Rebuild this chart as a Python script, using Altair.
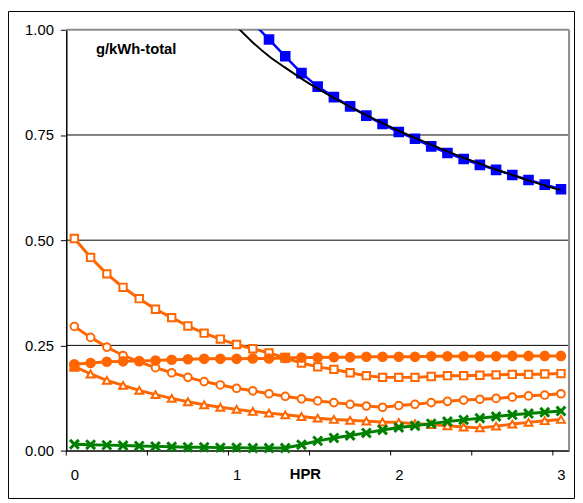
import altair as alt
import pandas as pd

# ---------------- data ----------------
hpr = [0.0, 0.1, 0.2, 0.3, 0.4, 0.5, 0.6, 0.7, 0.8, 0.9, 1.0,
       1.1, 1.2, 1.3, 1.4, 1.5, 1.6, 1.7, 1.8, 1.9, 2.0,
       2.1, 2.2, 2.3, 2.4, 2.5, 2.6, 2.7, 2.8, 2.9, 3.0]

open_squares = [0.504, 0.459, 0.420, 0.388, 0.361, 0.336, 0.316, 0.296, 0.279, 0.265, 0.252,
                0.242, 0.232, 0.220, 0.208, 0.199, 0.193, 0.185, 0.178, 0.174, 0.174,
                0.174, 0.176, 0.178, 0.178, 0.179, 0.180, 0.181, 0.181, 0.182, 0.183]
filled_circles = [0.205, 0.208, 0.211, 0.212, 0.213, 0.214, 0.216, 0.217, 0.218, 0.218, 0.218,
                  0.219, 0.219, 0.220, 0.221, 0.221, 0.222, 0.222, 0.223, 0.223, 0.223,
                  0.223, 0.224, 0.224, 0.224, 0.224, 0.224, 0.225, 0.225, 0.225, 0.225]
open_circles = [0.295, 0.269, 0.246, 0.226, 0.211, 0.197, 0.185, 0.174, 0.164, 0.156, 0.148,
                0.142, 0.135, 0.129, 0.123, 0.118, 0.114, 0.110, 0.106, 0.103, 0.107,
                0.110, 0.114, 0.117, 0.120, 0.122, 0.124, 0.127, 0.130, 0.132, 0.135]
triangles = [0.200, 0.182, 0.167, 0.155, 0.143, 0.133, 0.124, 0.116, 0.109, 0.103, 0.098,
             0.093, 0.089, 0.085, 0.081, 0.077, 0.074, 0.072, 0.070, 0.068, 0.067,
             0.064, 0.062, 0.059, 0.056, 0.054, 0.058, 0.063, 0.067, 0.071, 0.074]
green_x = [0.015, 0.014, 0.013, 0.012, 0.011, 0.010, 0.009, 0.008, 0.008, 0.007, 0.007,
           0.006, 0.006, 0.006, 0.014, 0.023, 0.030, 0.036, 0.042, 0.049, 0.055,
           0.059, 0.064, 0.069, 0.073, 0.077, 0.081, 0.085, 0.088, 0.091, 0.094]

blue_x = [1.1, 1.2, 1.3, 1.4, 1.5, 1.6, 1.7, 1.8, 1.9, 2.0,
          2.1, 2.2, 2.3, 2.4, 2.5, 2.6, 2.7, 2.8, 2.9, 3.0]
blue_total = [1.017, 0.977, 0.937, 0.897, 0.865, 0.840, 0.818, 0.796, 0.776, 0.757,
              0.741, 0.723, 0.707, 0.693, 0.679, 0.667, 0.655, 0.643, 0.632, 0.621]

fit_x = [1.0, 1.1, 1.2, 1.3, 1.4, 1.5, 1.6, 1.7, 1.8, 1.9, 2.0,
         2.1, 2.2, 2.3, 2.4, 2.5, 2.6, 2.7, 2.8, 2.9, 3.0]
fit_total = [1.008, 0.970, 0.937, 0.910, 0.884, 0.860, 0.838, 0.817, 0.797, 0.778, 0.760,
             0.743, 0.727, 0.711, 0.696, 0.682, 0.668, 0.655, 0.642, 0.630, 0.619]

marked_x = [0.0, 1.3]
marked_y = [0.199, 0.221]

x_labels = [0, 1, 2, 3]
x_tick_bounds = [-0.05, 0.45, 0.95, 1.45, 1.95, 2.45, 2.95]
y_labels = [0.0, 0.25, 0.5, 0.75, 1.0]
grid_values = [0.25, 0.5, 0.75]

# ---------------- style ----------------
FONT = "Liberation Sans"
ORANGE = "#FF6600"
BLUE = "#0000FF"
GREEN = "#008000"
W, H = 509, 426

X = alt.X("x:Q",
          scale=alt.Scale(domain=[-0.05, 3.05], nice=False, zero=False),
          axis=alt.Axis(values=x_labels, ticks=False, grid=False, title=None,
                        labelPadding=17, labelFontSize=15, labelFont=FONT,
                        labelColor="black", domainColor="black", domainWidth=1.5,
                        format="d", labelFlush=False))
Y = alt.Y("y:Q",
          scale=alt.Scale(domain=[0, 1], nice=False, zero=False),
          axis=alt.Axis(values=y_labels, format=".2f", grid=False, title=None,
                        tickSize=6, tickColor="black", tickWidth=1,
                        domainColor="black", domainWidth=1.5,
                        labelPadding=7, labelFontSize=15, labelFont=FONT,
                        labelColor="black"))


def frame(xs, ys):
    return pd.DataFrame({"x": xs, "y": ys})


one = pd.DataFrame({"a": [0]})

layers = []

# gridlines
layers.append(alt.Chart(pd.DataFrame({"y": grid_values})).mark_rule(
    color="black", strokeWidth=1).encode(y=Y))

# gray plot border (top, right)
layers.append(alt.Chart(one).mark_rule(color="#8c8c8c", strokeWidth=2).encode(
    x=alt.value(0), x2=alt.value(W), y=alt.value(0)))
layers.append(alt.Chart(one).mark_rule(color="#8c8c8c", strokeWidth=2).encode(
    x=alt.value(W), y=alt.value(0), y2=alt.value(H)))

# custom x ticks (between categories)
layers.append(alt.Chart(pd.DataFrame({"x": x_tick_bounds})).mark_rule(
    color="black", strokeWidth=1).encode(x=X, y=alt.value(H), y2=alt.value(H + 5)))


def series(xs, ys, color, lw, shape, size, filled_marker, fill="white", sw=2):
    d = frame(xs, ys)
    line = alt.Chart(d).mark_line(color=color, strokeWidth=lw, clip=True).encode(x=X, y=Y)
    if filled_marker:
        pts = alt.Chart(d).mark_point(shape=shape, size=size, filled=True, color=color,
                                      opacity=1, clip=True).encode(x=X, y=Y)
    else:
        pts = alt.Chart(d).mark_point(shape=shape, size=size, filled=False, fill=fill,
                                      fillOpacity=1, stroke=color, strokeWidth=sw,
                                      opacity=1, clip=True).encode(x=X, y=Y)
    return [line, pts]


layers += series(hpr, open_squares, ORANGE, 3, "square", 56, False)
layers += series(hpr, open_circles, ORANGE, 3, "circle", 60, False)
layers += series(hpr, triangles, ORANGE, 3, "triangle-up", 64, False)
layers += series(hpr, filled_circles, ORANGE, 3, "circle", 115, True)

# filled orange square markers
layers.append(alt.Chart(frame(marked_x, marked_y)).mark_point(
    shape="square", size=100, filled=True, color=ORANGE, opacity=1).encode(x=X, y=Y))

# green crosses
gx = frame(hpr, green_x)
layers.append(alt.Chart(gx).mark_line(color=GREEN, strokeWidth=3).encode(x=X, y=Y))
layers.append(alt.Chart(gx).mark_point(
    shape="M-1,-1L1,1M-1,1L1,-1", size=80, filled=False, stroke=GREEN,
    strokeWidth=3, opacity=1).encode(x=X, y=Y))

# blue total
layers += series(blue_x, blue_total, BLUE, 2.5, "square", 115, True)

# black fit curve
layers.append(alt.Chart(frame(fit_x, fit_total)).mark_line(
    color="black", strokeWidth=2, clip=True, interpolate="monotone").encode(x=X, y=Y))

# texts
layers.append(alt.Chart(one).mark_text(
    text="g/kWh-total", font=FONT, fontSize=15, fontWeight="bold", color="black",
    align="left", baseline="alphabetic").encode(x=alt.value(30), y=alt.value(24.5)))
layers.append(alt.Chart(one).mark_text(
    text="HPR", font=FONT, fontSize=15, fontWeight="bold", color="black",
    align="center", baseline="alphabetic").encode(x=alt.value(242), y=alt.value(455)))

# outer chart border
layers.append(alt.Chart(one).mark_rect(
    filled=False, stroke="black", strokeWidth=1).encode(
    x=alt.value(-58.5), x2=alt.value(514.5), y=alt.value(-18.5), y2=alt.value(474.5)))

chart = alt.layer(*layers).properties(
    width=W, height=H,
    padding={"left": 59, "top": 19, "right": 6, "bottom": 49},
    autosize=alt.AutoSizeParams(type="none"),
    background="white",
).configure_view(stroke=None)

chart.save("out.html", embed_options={"renderer": "svg", "actions": False})
